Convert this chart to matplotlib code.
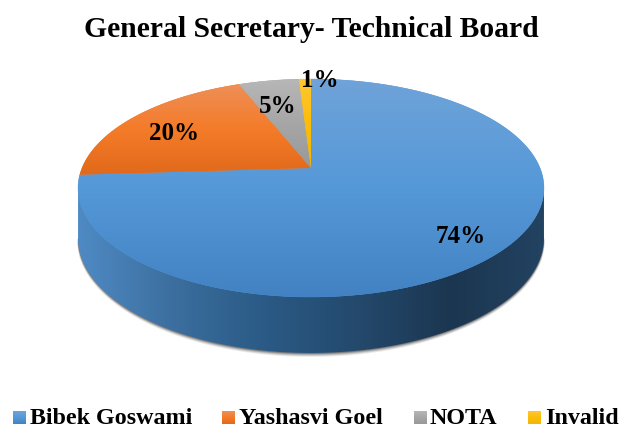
import numpy as np
import matplotlib
matplotlib.use("Agg")
import matplotlib.pyplot as plt
from matplotlib.colors import LinearSegmentedColormap
from matplotlib.patches import Polygon

title = "General Secretary- Technical Board"
categories = ["Bibek Goswami", "Yashasvi Goel", "NOTA", "Invalid"]
values = [74, 20, 5, 1]

# colours top to bottom for each slice
slice_colors = [
    ["#6fa3d9", "#5598d8", "#4282c3"],
    ["#ee8f58", "#f47b28", "#e1691b"],
    ["#b7b7b7", "#a6a6a6", "#989898"],
    ["#ffc733", "#fbbd0a", "#f2b800"],
]
wall_colors = ["#4f8ac4", "#3c6f9f", "#2a5a85", "#24496c", "#1b3650", "#234362"]

# layout in pixels of the 621x428 picture
apex_x, apex_y = 311, 168
k = 0.1835
a = 105.3
c = 229
ell_cy = 188
low_cy, low_ry, top_ry = 238, 115, 109
label_pos = [(461, 236), (174, 133), (278, 106), (320, 80)]
legend_sq = [13, 222, 414, 528]
legend_tx = [30, 239, 430, 545]


def project(theta):
    # theta clockwise from 12 o'clock, circle seen with perspective
    u, v = np.sin(theta), np.cos(theta)
    d = 1 + k * v
    return apex_x + c * u / d, apex_y - a * v / d


def lower(x, y):
    return x, low_cy + (y - ell_cy) * low_ry / top_ry


def gradient(ax, colors, extent, clip, horizontal=False, zorder=2):
    cmap = LinearSegmentedColormap.from_list("g", colors)
    ramp = np.linspace(0, 1, 256)
    ramp = ramp.reshape(1, -1) if horizontal else ramp.reshape(-1, 1)
    im = ax.imshow(ramp, cmap=cmap, extent=extent, origin="upper", aspect="auto",
                   vmin=0, vmax=1, zorder=zorder, interpolation="bilinear")
    im.set_clip_path(clip)


fig = plt.figure(figsize=(6.21, 4.28), dpi=100, facecolor="white")
ax = fig.add_axes([0, 0, 1, 1])
plt.rcParams["font.family"] = "Liberation Serif"

# side wall and shadow
rim = np.linspace(0, 2 * np.pi, 720)
top_x, top_y = project(rim)
x_side, y_side = project(np.linspace(rim[top_x.argmax()], rim[top_x.argmin()], 300))
lx, ly = lower(x_side, y_side)
fade = np.sin(np.linspace(0, np.pi, 300)) ** 0.5

for s, alpha in zip([4, 3, 2, 1], [0.08, 0.12, 0.18, 0.25]):
    cx = (lx - apex_x) * (1 + fade * s / 233) + apex_x
    cy = (ly - low_cy) * (1 + fade * s / 115) + low_cy
    ax.add_patch(Polygon(np.column_stack([cx, cy]), closed=True, fc="black", ec="none",
                         alpha=alpha, zorder=1))

wall_pts = np.column_stack([np.r_[x_side[0], lx, x_side[-1]], np.r_[y_side[0], ly, y_side[-1]]])
wall = Polygon(wall_pts, closed=True, fc="none", ec="none", transform=ax.transData)
ax.add_patch(wall)
gradient(ax, wall_colors, (78, 546, 360, 180), wall, horizontal=True)

# top face slices, clockwise from 12 o'clock
edges = np.cumsum([0] + values) / sum(values) * 2 * np.pi
for i in range(len(values)):
    th = np.linspace(edges[i], edges[i + 1], 400)
    x, y = project(th)
    pts = np.column_stack([np.r_[apex_x, x], np.r_[apex_y, y]])
    wedge = Polygon(pts, closed=True, fc=slice_colors[i][1], ec=slice_colors[i][1], lw=0.3,
                    transform=ax.transData, zorder=3)
    ax.add_patch(wedge)
    gradient(ax, slice_colors[i], (pts[:, 0].min(), pts[:, 0].max(), pts[:, 1].max(), pts[:, 1].min()),
             wedge, zorder=4)

for v, (px, py) in zip(values, label_pos):
    ax.text(px, py, f"{v}%", ha="center", va="center", fontsize=18, fontweight="bold",
            family="Liberation Serif", color="black", zorder=6)

ax.text(311, 29, title, ha="center", va="center", fontsize=21.3, fontweight="bold",
        family="Liberation Serif", color="black")

# legend
for i, name in enumerate(categories):
    sq = Polygon([(legend_sq[i], 411), (legend_sq[i] + 13, 411), (legend_sq[i] + 13, 424), (legend_sq[i], 424)],
                 closed=True, fc=slice_colors[i][1], ec="none", transform=ax.transData)
    ax.add_patch(sq)
    gradient(ax, slice_colors[i], (legend_sq[i], legend_sq[i] + 13, 424, 411), sq)
    ax.text(legend_tx[i], 424, name, ha="left", va="baseline", fontsize=17.3, fontweight="bold",
            family="Liberation Serif", color="black")

ax.set_xlim(0, 621)
ax.set_ylim(428, 0)
ax.axis("off")
fig.savefig("out.png", dpi=100, facecolor="white")
